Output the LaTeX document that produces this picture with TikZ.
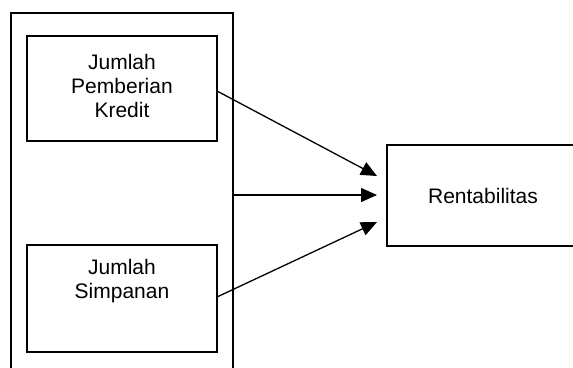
\documentclass[tikz,border=0pt]{standalone}
\usepackage{fontspec}
\setmainfont{Liberation Sans}
\usetikzlibrary{arrows.meta}
\tikzset{
  frame/.style={draw=black, line width=1.5pt},
  box/.style={draw=black, line width=1.5pt, rectangle, inner sep=0pt},
  lbl/.style={align=center, inner sep=0pt, font=\fontsize{21}{24}\selectfont},
  arr/.style={draw=black, line width=1.3pt, -{Triangle[length=16pt,width=14pt]}}
}
\begin{document}
\begin{tikzpicture}[x=1pt,y=-1pt]
\useasboundingbox (0,0) rectangle (573,367);
% outer open frame
\coordinate (oBL) at (11,370);
\coordinate (oTL) at (11,13);
\coordinate (oTR) at (233,13);
\coordinate (oBR) at (233,370);
\draw[frame] (oBL) -- (oTL) -- (oTR) -- (oBR);
% input boxes
\node[box, minimum width=190pt, minimum height=105pt] (b1) at (122,88.5) {};
\node[lbl] (t1) at (122,86) {Jumlah\\Pemberian\\Kredit};
\node[box, minimum width=190pt, minimum height=107pt] (b2) at (122,298.5) {};
\node[lbl] (t2) at (122,281) {Jumlah\\Simpanan};
% output box
\node[box, minimum width=220pt, minimum height=101pt] (r) at (497,195.5) {};
\node[lbl] (tr) at (483,196) {Rentabilitas};
% arrow endpoints
\coordinate (s1) at (217,91);
\coordinate (s2) at (233,195);
\coordinate (s3) at (217,297);
\coordinate (e1) at (377,176);
\coordinate (e2) at (377,195);
\coordinate (e3) at (377,222);
\draw[arr] (s1) -- (e1);
\draw[arr] (s2) -- (e2);
\draw[arr] (s3) -- (e3);
\end{tikzpicture}
\end{document}
